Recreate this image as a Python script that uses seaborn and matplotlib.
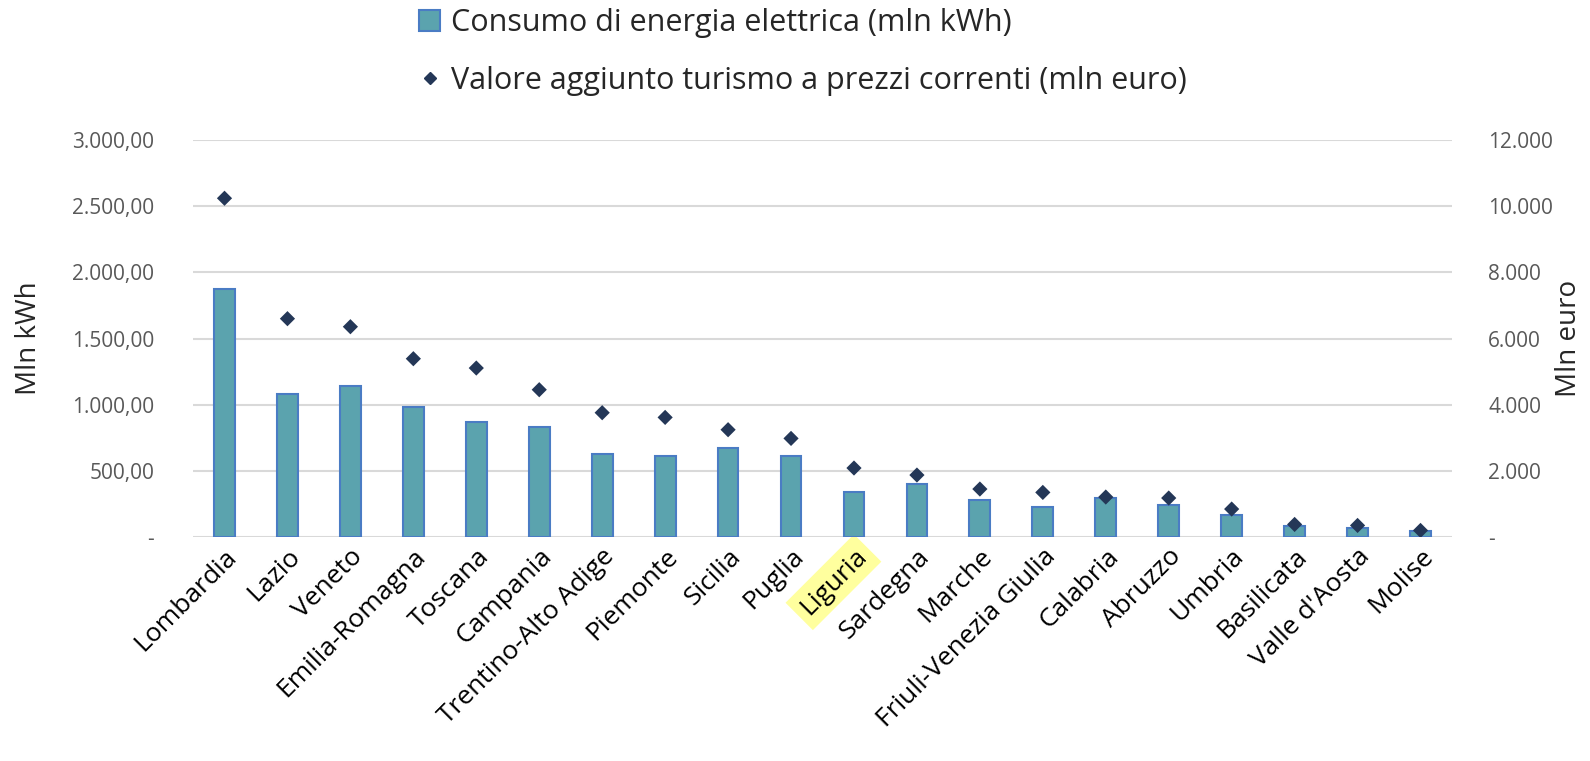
import numpy as np
import pandas as pd
import matplotlib
matplotlib.use('Agg')
import matplotlib.pyplot as plt
import seaborn as sns
from matplotlib.lines import Line2D
from matplotlib.patches import Patch

# dati
regioni = ['Lombardia', 'Lazio', 'Veneto', 'Emilia-Romagna', 'Toscana', 'Campania',
           'Trentino-Alto Adige', 'Piemonte', 'Sicilia', 'Puglia', 'Liguria', 'Sardegna',
           'Marche', 'Friuli-Venezia Giulia', 'Calabria', 'Abruzzo', 'Umbria',
           'Basilicata', "Valle d'Aosta", 'Molise']
consumo = [1878, 1080, 1140, 986, 866, 828, 631, 614, 674, 609, 337, 400,
           279, 227, 292, 244, 163, 83, 68, 45]          # mln kWh
valore_agg = [10240, 6600, 6357, 5390, 5108, 4453, 3758, 3616, 3244, 2981, 2086, 1874,
              1451, 1349, 1209, 1179, 846, 381, 351, 200]  # mln euro

lab_bar = 'Consumo di energia elettrica (mln kWh)'
lab_pt = 'Valore aggiunto turismo a prezzi correnti (mln euro)'

df = pd.DataFrame({'regione': regioni, 'consumo': consumo, 'valore': valore_agg})
df['pos'] = np.arange(len(df))

sns.set_theme(style='white')
plt.rcParams['font.family'] = ['Open Sans', 'DejaVu Sans']

fig = plt.figure(figsize=(15.9, 7.61), dpi=100)
ax = fig.add_axes([0.1214, 0.2943, 0.7918, 0.5217])

sns.barplot(data=df, x='regione', y='consumo', ax=ax, color='#5BA3AE', saturation=1,
            width=0.33, edgecolor='#4A7CC4', linewidth=1.5)
ax.set_xlim(-0.5, len(df) - 0.5)
ax.set_ylim(0, 3000)
ax.set_yticks(np.arange(0, 3001, 500))
ax.set_yticklabels(['-'] + [f'{v:,.2f}'.replace(',', 'X').replace('.', ',').replace('X', '.')
                            for v in np.arange(500, 3001, 500)])
ax.grid(axis='y', color='#D9D9D9', linewidth=1.5)
ax.set_axisbelow(True)
for s in ax.spines.values():
    s.set_visible(False)
ax.tick_params(axis='y', length=0, labelsize=15, labelcolor='#595959', pad=28)
ax.tick_params(axis='x', length=0, labelsize=19, labelcolor='black', pad=5)
plt.setp(ax.get_xticklabels(), rotation=45, ha='right', rotation_mode='anchor')
for t in ax.get_xticklabels():
    if t.get_text() == 'Liguria':
        t.set_bbox(dict(facecolor='#FFFF9E', edgecolor='none', pad=5))
ax.set_xlabel('')
ax.set_ylabel('Mln kWh', fontsize=20)
ax.yaxis.label.set_verticalalignment('center')
ax.yaxis.set_label_coords(-0.130, 0.5)

ax2 = ax.twinx()
sns.scatterplot(data=df, x='pos', y='valore', ax=ax2, marker='D', s=60,
                color='#243757', edgecolor='none', zorder=5)
ax2.set_ylim(0, 12000)
ax2.set_yticks(np.arange(0, 12001, 2000))
ax2.set_yticklabels(['-'] + [f'{v:,}'.replace(',', '.') for v in range(2000, 12001, 2000)])
for s in ax2.spines.values():
    s.set_visible(False)
ax2.tick_params(axis='y', length=0, labelsize=15, labelcolor='#595959', pad=26)
ax2.set_ylabel('Mln euro', fontsize=20)
ax2.yaxis.label.set_verticalalignment('center')
ax2.yaxis.set_label_coords(1.093, 0.5)
ax2.set_xlim(-0.5, len(df) - 0.5)

handles = [Patch(facecolor='#5BA3AE', edgecolor='#4A7CC4', linewidth=1.5),
           Line2D([], [], marker='D', color='#243757', linestyle='none', markersize=6)]
fig.legend(handles, [lab_bar, lab_pt], loc='upper center', bbox_to_anchor=(0.505, 1.025),
           ncol=1, frameon=False, fontsize=22, handlelength=0.7, handletextpad=0.35,
           labelspacing=0.9)

fig.savefig('out.png', dpi=100)
